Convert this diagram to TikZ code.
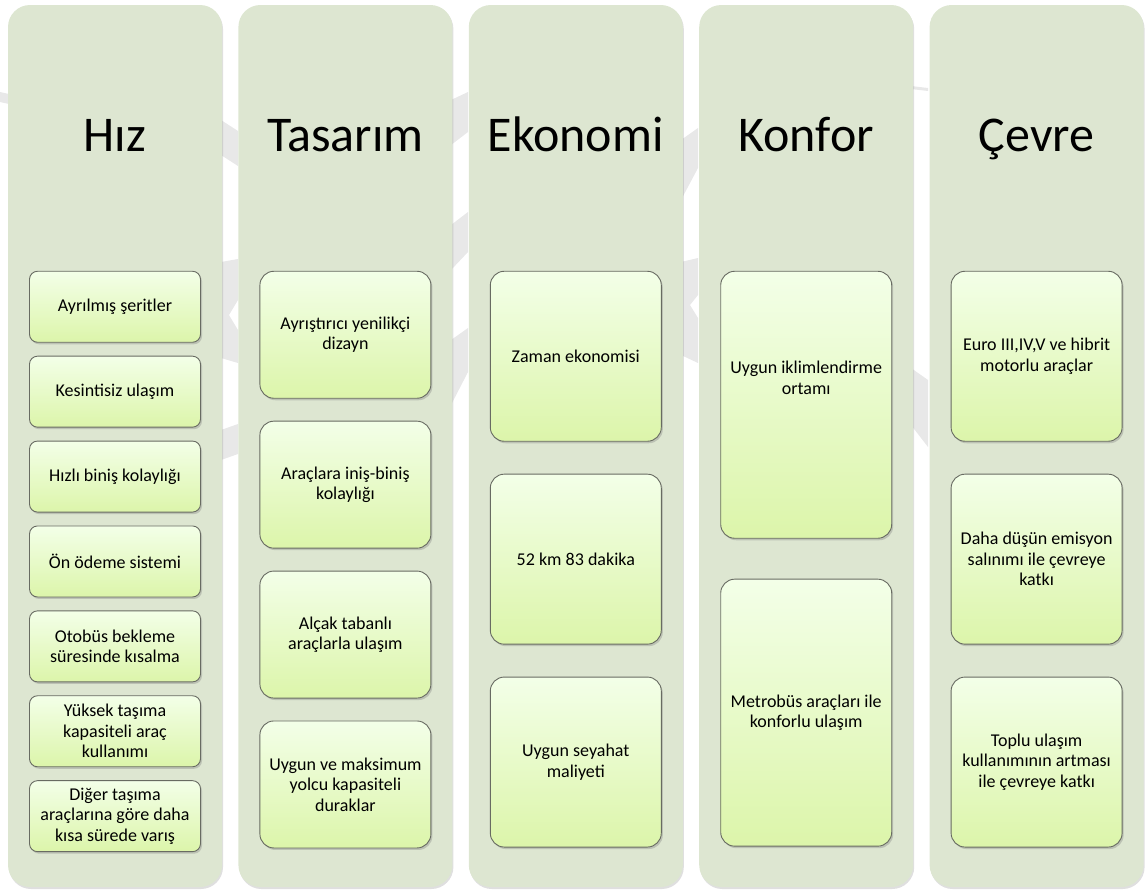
\documentclass[tikz,border=0pt]{standalone}
\usepackage{fontspec}
\setmainfont{Carlito}
\usetikzlibrary{positioning,shadows}

\definecolor{colfill}{HTML}{DDE6D1}
\definecolor{itemtop}{HTML}{F3FFE8}
\definecolor{itembot}{HTML}{DCF5AA}
\definecolor{itemline}{HTML}{686B62}
\definecolor{bandgray}{HTML}{E8E8E8}

\tikzstyle{column} = [rectangle, rounded corners=22pt, fill=colfill, minimum width=214pt, minimum height=882pt, drop shadow={shadow xshift=1pt, shadow yshift=-2pt, opacity=0.25}]
\tikzstyle{heading} = [anchor=base, font=\fontsize{50}{60}\selectfont]
\tikzstyle{itembox} = [rectangle, draw=itemline, line width=0.9pt, rounded corners=14pt, top color=itemtop, bottom color=itembot, minimum width=171pt, align=center, font=\fontsize{18}{20.5}\selectfont, drop shadow={shadow xshift=1.5pt, shadow yshift=-2pt, opacity=0.35}]
\tikzstyle{bgband} = [fill=bandgray]

\begin{document}
\begin{tikzpicture}[x=1pt,y=-1pt]
    \useasboundingbox (0,0) rectangle (1147,895);

    % Background bands
    \fill [bgband] (0,92) -- (9,94) -- (9,104) -- (0,102) -- cycle;
    \fill [bgband] (221,120) -- (238,131) -- (238,166) -- (221,155) -- cycle;
    \fill [bgband] (221,262) -- (238,259) -- (238,300) -- (229,315) -- (238,330) -- (238,363) -- (221,358) -- cycle;
    \fill [bgband] (221,430) -- (238,424) -- (238,454) -- (221,460) -- cycle;
    \fill [bgband] (451,100) -- (468,92) -- (468,132) -- (451,145) -- cycle;
    \fill [bgband] (451,225) -- (468,212) -- (468,252) -- (451,270) -- cycle;
    \fill [bgband] (451,340) -- (468,328) -- (468,372) -- (451,405) -- cycle;
    \fill [bgband] (681,140) -- (698,128) -- (698,168) -- (681,200) -- cycle;
    \fill [bgband] (681,262) -- (698,258) -- (698,295) -- (690,305) -- (698,318) -- (698,363) -- (681,355) -- cycle;
    \fill [bgband] (911,86) -- (928,88) -- (928,91) -- (911,89) -- cycle;
    \fill [bgband] (911,368) -- (928,380) -- (928,447) -- (911,425) -- cycle;

    % Columns
    \node (col1) [column] at (115,446) {};
    \node (col2) [column, right=16pt of col1] {};
    \node (col3) [column, right=16pt of col2] {};
    \node (col4) [column, right=16pt of col3] {};
    \node (col5) [column, right=16pt of col4] {};

    % Headings
    \node (hiz) [heading] at ([yshift=-147pt]col1.north) {Hız};
    \node (tasarim) [heading] at ([yshift=-147pt]col2.north) {Tasarım};
    \node (ekonomi) [heading] at ([yshift=-147pt]col3.north) {Ekonomi};
    \node (konfor) [heading] at ([yshift=-147pt]col4.north) {Konfor};
    \node (cevre) [heading] at ([yshift=-147pt]col5.north) {Çevre};

    % Hız
    \node (hiz1) [itembox, rounded corners=8pt, minimum height=71pt, below=266pt of col1.north] {Ayrılmış şeritler};
    \node (hiz2) [itembox, rounded corners=8pt, minimum height=71pt, below=13pt of hiz1] {Kesintisiz ulaşım};
    \node (hiz3) [itembox, rounded corners=8pt, minimum height=71pt, below=13pt of hiz2] {Hızlı biniş kolaylığı};
    \node (hiz4) [itembox, rounded corners=8pt, minimum height=71pt, below=13pt of hiz3] {Ön ödeme sistemi};
    \node (hiz5) [itembox, rounded corners=8pt, minimum height=71pt, below=13pt of hiz4] {Otobüs bekleme\\süresinde kısalma};
    \node (hiz6) [itembox, rounded corners=8pt, minimum height=71pt, below=13pt of hiz5] {Yüksek taşıma\\kapasiteli araç\\kullanımı};
    \node (hiz7) [itembox, rounded corners=8pt, minimum height=71pt, below=13pt of hiz6] {Diğer taşıma\\araçlarına göre daha\\kısa sürede varış};

    % Tasarım
    \node (tasarim1) [itembox, minimum height=127pt, below=266pt of col2.north] {Ayrıştırıcı yenilikçi\\dizayn};
    \node (tasarim2) [itembox, minimum height=127pt, below=22pt of tasarim1] {Araçlara iniş-biniş\\kolaylığı};
    \node (tasarim3) [itembox, minimum height=127pt, below=22pt of tasarim2] {Alçak tabanlı\\araçlarla ulaşım};
    \node (tasarim4) [itembox, minimum height=127pt, below=22pt of tasarim3] {Uygun ve maksimum\\yolcu kapasiteli\\duraklar};

    % Ekonomi
    \node (ekonomi1) [itembox, minimum height=170pt, below=266pt of col3.north] {Zaman ekonomisi};
    \node (ekonomi2) [itembox, minimum height=170pt, below=32pt of ekonomi1] {52 km 83 dakika};
    \node (ekonomi3) [itembox, minimum height=170pt, below=32pt of ekonomi2] {Uygun seyahat\\maliyeti};

    % Konfor
    \node (konfor1) [itembox, minimum height=267pt, below=266pt of col4.north] {Uygun iklimlendirme\\ortamı\\[34pt]\mbox{}};
    \node (konfor2) [itembox, minimum height=267pt, below=40pt of konfor1] {Metrobüs araçları ile\\konforlu ulaşım};

    % Çevre
    \node (cevre1) [itembox, minimum height=170pt, below=266pt of col5.north] {Euro III,IV,V ve hibrit\\motorlu araçlar};
    \node (cevre2) [itembox, minimum height=170pt, below=32pt of cevre1] {Daha düşün emisyon\\salınımı ile çevreye\\katkı};
    \node (cevre3) [itembox, minimum height=170pt, below=32pt of cevre2] {Toplu ulaşım\\kullanımının artması\\ile çevreye katkı};

\end{tikzpicture}
\end{document}
